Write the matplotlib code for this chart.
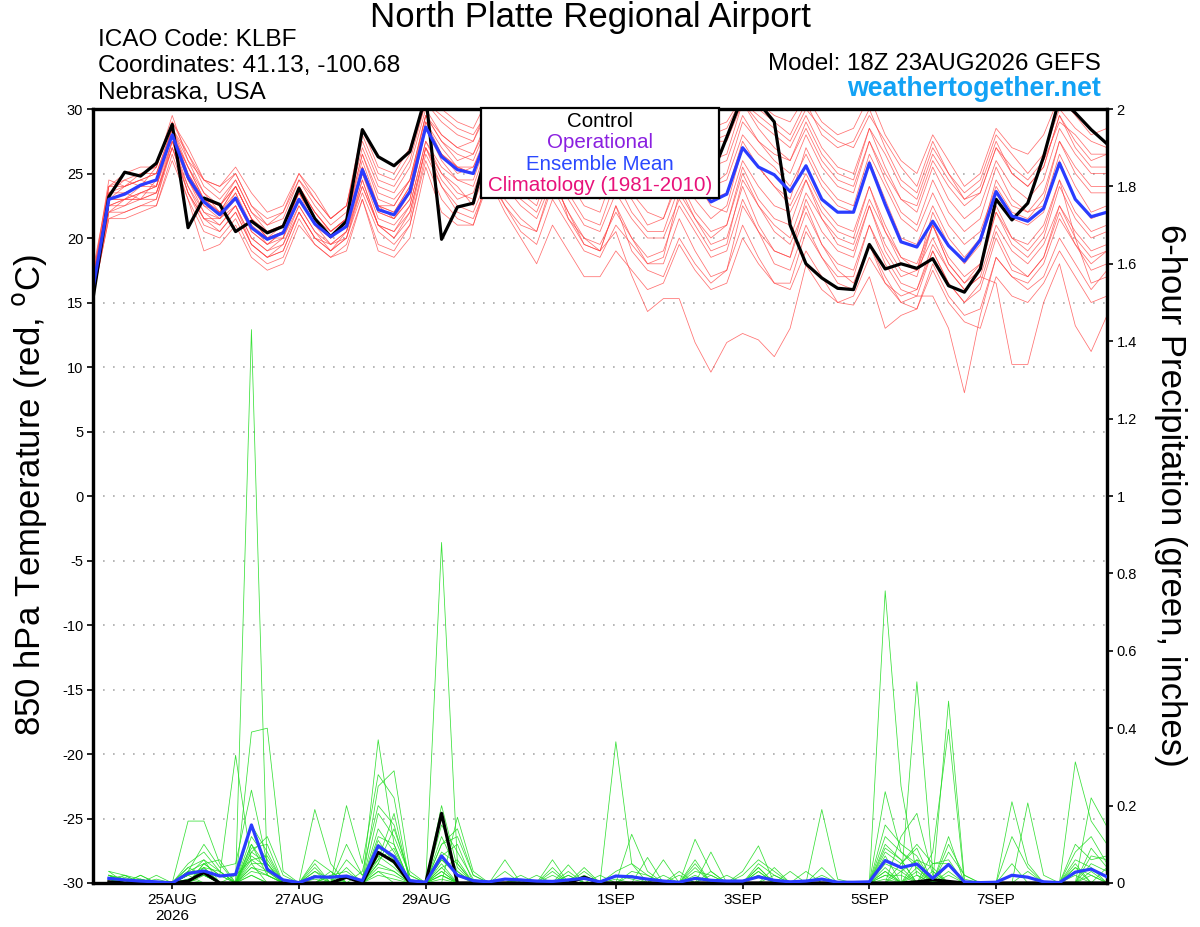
import numpy as np
import pandas as pd
import matplotlib
matplotlib.use("Agg")
import matplotlib.pyplot as plt
from matplotlib.patches import Rectangle

plt.rcParams['font.family'] = ['Liberation Sans', 'DejaVu Sans']
plt.rcParams['axes.unicode_minus'] = False

# ---------------- data ----------------
times = pd.date_range('2026-08-23 18:00', periods=65, freq='6h')
tick_dates = ['2026-08-25', '2026-08-27', '2026-08-29', '2026-09-01',
              '2026-09-03', '2026-09-05', '2026-09-07']
tick_labels = ['25AUG\n2026', '27AUG', '29AUG', '1SEP', '3SEP', '5SEP', '7SEP']
temp_ticks = [30, 25, 20, 15, 10, 5, 0, -5, -10, -15, -20, -25, -30]
precip_ticks = [0, 0.2, 0.4, 0.6, 0.8, 1.0, 1.2, 1.4, 1.6, 1.8, 2.0]
precip_tick_labels = ['0', '0.2', '0.4', '0.6', '0.8', '1', '1.2', '1.4', '1.6', '1.8', '2']

# control (black) 850 hPa temperature
t_control = [15.3,
             23.2, 25.1, 24.8, 25.8, 28.8, 20.8, 23.1, 22.6, 20.5, 21.3, 20.4, 20.9,
             23.85, 21.5, 20.1, 21.3, 28.4, 26.3, 25.6, 26.7, 31.0, 19.9, 22.4, 22.7,
             27.5, 29.0, 28.0, 27.5, 30.0, 28.5, 27.0, 27.5, 29.5, 28.0, 27.0, 27.5,
             29.0, 27.0, 24.7, 27.8, 31.0, 30.5, 29.0, 21.0, 18.0, 16.9, 16.1, 16.0,
             19.5, 17.6, 18.0, 17.65, 18.4, 16.3, 15.8, 17.6, 23.0, 21.4, 22.7, 26.3,
             30.8, 29.7, 28.4, 27.3]
# ensemble mean (blue) 850 hPa temperature
t_mean = [16.1,
          23.0, 23.4, 24.1, 24.5, 28.0, 24.7, 22.8, 21.8, 23.1, 20.8, 19.9, 20.4,
          23.0, 21.1, 20.1, 20.9, 25.3, 22.2, 21.8, 23.6, 28.6, 26.3, 25.3, 25.0,
          28.3, 26.5, 25.5, 25.0, 27.0, 25.8, 24.8, 24.5, 26.0, 25.0, 24.0, 24.2,
          26.2, 24.5, 22.8, 23.4, 27.0, 25.5, 24.9, 23.6, 25.6, 23.0, 22.0, 22.0,
          25.8, 22.6, 19.7, 19.3, 21.3, 19.4, 18.2, 19.85, 23.6, 21.7, 21.3, 22.3,
          25.8, 23.0, 21.65, 22.0]

# ensemble members (red) 850 hPa temperature
t_m01 = [16.5, 23.5, 24.0, 24.5, 25.0, 28.5, 26.0, 23.5, 22.5, 24.0, 21.5, 20.0, 21.0,
         24.0, 22.0, 20.5, 21.5, 26.5, 23.0, 22.5, 24.5, 29.5, 27.5, 26.0, 26.5,
         29.5, 28.0, 27.0, 26.5, 30.5, 28.5, 27.5, 27.0, 29.5, 27.5, 26.5, 27.0,
         30.0, 28.0, 26.0, 26.5, 30.5, 29.0, 28.0, 27.0, 29.5, 27.0, 25.5, 25.0,
         28.5, 26.5, 24.0, 23.0, 26.5, 24.5, 23.0, 24.0, 27.5, 25.0, 24.0, 25.5,
         29.5, 27.0, 25.5, 25.5]
t_m02 = [15.5, 21.5, 22.0, 22.5, 23.0, 27.0, 23.5, 21.0, 20.5, 22.0, 19.5, 18.5, 19.0,
         22.0, 20.0, 19.0, 20.0, 23.5, 20.5, 19.5, 21.0, 26.5, 24.0, 22.5, 22.0,
         25.0, 23.0, 21.5, 20.5, 24.5, 22.0, 19.5, 19.0, 22.5, 19.0, 17.5, 17.0,
         20.0, 18.0, 16.5, 17.5, 22.5, 20.5, 19.0, 18.5, 22.0, 19.5, 18.0, 17.5,
         21.0, 18.5, 16.5, 16.0, 19.0, 16.5, 15.0, 16.5, 20.5, 18.0, 17.0, 18.5,
         22.0, 19.5, 18.0, 19.0]
t_m03 = [16.0, 22.5, 23.0, 23.5, 24.0, 27.5, 24.5, 22.0, 21.5, 23.0, 20.5, 19.5, 20.0,
         23.0, 21.0, 19.5, 20.5, 25.0, 21.5, 21.0, 22.5, 27.5, 25.0, 23.5, 23.0,
         26.0, 24.0, 22.5, 21.5, 24.5, 22.0, 20.0, 19.0, 20.5, 17.1, 14.3, 15.3,
         15.3, 11.9, 9.6, 11.9, 12.6, 12.1, 10.8, 13.0, 17.9, 16.0, 15.0, 15.5,
         18.5, 16.5, 15.5, 16.0, 19.5, 17.5, 16.0, 17.0, 21.0, 19.0, 18.0, 19.5,
         22.5, 20.0, 18.5, 19.0]
t_m04 = [17.0, 24.0, 25.0, 25.5, 25.5, 29.0, 27.0, 24.5, 23.5, 25.0, 22.5, 21.0, 22.0,
         25.0, 23.0, 21.5, 22.5, 28.0, 25.0, 24.5, 26.5, 30.5, 29.0, 28.0, 27.5,
         30.5, 29.5, 28.5, 28.0, 31.0, 30.0, 29.0, 28.5, 31.0, 29.5, 28.5, 29.0,
         31.0, 30.0, 28.5, 29.0, 31.0, 30.5, 29.5, 29.0, 31.0, 29.0, 28.0, 28.5,
         31.0, 28.0, 26.0, 25.0, 28.0, 26.0, 24.0, 25.0, 28.5, 27.0, 26.5, 28.0,
         31.0, 29.5, 28.0, 28.5]
t_m05 = [16.0, 23.0, 23.5, 24.0, 24.5, 28.0, 25.0, 23.0, 22.0, 23.5, 21.0, 20.0, 20.5,
         23.5, 21.5, 20.0, 21.0, 25.5, 22.5, 22.0, 24.0, 29.0, 27.0, 25.5, 25.0,
         28.5, 26.0, 24.5, 23.0, 25.5, 21.5, 20.0, 19.5, 22.0, 20.0, 18.0, 18.5,
         23.5, 21.5, 20.0, 21.0, 25.5, 23.0, 21.5, 21.0, 24.5, 22.0, 20.5, 20.0,
         24.0, 20.5, 18.0, 17.5, 22.0, 19.5, 18.0, 19.5, 23.5, 21.5, 21.0, 22.0,
         26.0, 23.0, 21.5, 22.0]
t_m06 = [15.8, 22.0, 22.5, 23.0, 23.5, 27.0, 24.0, 22.0, 21.0, 22.5, 20.0, 19.0, 19.5,
         22.5, 20.5, 19.5, 20.0, 24.5, 21.0, 20.5, 22.5, 27.5, 25.5, 24.5, 24.0,
         27.5, 25.5, 24.0, 23.0, 26.5, 24.5, 22.5, 22.0, 25.5, 23.5, 22.0, 21.5,
         24.5, 22.0, 20.5, 21.0, 25.0, 22.5, 20.5, 19.5, 22.5, 19.5, 17.5, 16.5,
         19.5, 16.5, 15.0, 15.5, 15.5, 13.0, 8.0, 14.0, 18.5, 17.0, 16.5, 18.0,
         21.5, 19.5, 17.5, 18.0]
t_m07 = [16.3, 23.0, 23.0, 23.5, 24.0, 28.0, 25.5, 23.0, 22.5, 24.0, 21.5, 20.0, 20.5,
         23.0, 21.0, 20.0, 21.0, 25.0, 22.0, 21.5, 23.0, 28.5, 26.5, 25.5, 25.5,
         28.5, 27.0, 26.0, 25.5, 28.0, 26.0, 25.0, 24.5, 27.0, 25.0, 24.0, 24.0,
         26.5, 24.5, 22.5, 22.0, 26.0, 24.0, 22.5, 22.0, 24.5, 21.5, 19.5, 19.0,
         22.5, 19.0, 17.0, 17.5, 20.0, 17.5, 16.0, 17.0, 16.5, 10.2, 10.2, 15.0,
         18.0, 13.2, 11.2, 14.0]
t_m08 = [16.8, 23.5, 24.5, 25.0, 25.0, 28.5, 26.5, 24.0, 23.0, 24.5, 22.0, 21.0, 21.5,
         24.5, 22.5, 21.0, 22.0, 27.0, 24.0, 23.5, 25.5, 30.0, 28.0, 27.0, 26.5,
         29.0, 27.5, 26.5, 26.0, 29.5, 27.5, 26.5, 26.0, 29.0, 27.0, 26.0, 26.5,
         29.5, 27.0, 25.5, 26.0, 29.5, 27.5, 26.0, 25.0, 28.0, 25.5, 24.0, 23.5,
         27.5, 24.5, 22.0, 21.0, 24.5, 22.0, 20.5, 21.5, 25.5, 23.0, 22.0, 23.5,
         27.5, 25.5, 24.0, 24.0]
t_m09 = [15.3, 22.0, 22.0, 22.5, 22.5, 26.5, 23.0, 20.5, 20.0, 21.5, 19.0, 18.0, 18.5,
         21.5, 19.5, 18.5, 19.5, 23.0, 19.5, 19.0, 21.0, 26.0, 23.0, 21.5, 21.0,
         24.5, 22.5, 20.5, 19.5, 23.0, 21.0, 19.0, 18.5, 21.0, 19.5, 18.0, 18.0,
         21.5, 19.0, 17.0, 17.5, 21.0, 18.5, 16.5, 16.0, 19.0, 17.0, 15.0, 14.8,
         17.0, 13.0, 14.0, 14.5, 17.5, 15.0, 13.5, 13.0, 17.0, 15.5, 15.0, 16.5,
         19.0, 17.0, 15.0, 15.5]
t_m10 = [16.2, 23.0, 23.5, 24.0, 24.0, 28.0, 24.5, 22.5, 21.5, 23.5, 20.5, 19.5, 20.5,
         23.5, 21.0, 20.0, 21.0, 25.5, 22.0, 21.5, 23.5, 29.0, 26.5, 25.0, 25.5,
         28.0, 26.5, 25.5, 25.0, 27.5, 26.0, 24.5, 24.0, 27.5, 25.5, 24.5, 25.0,
         28.0, 26.0, 24.0, 24.5, 28.0, 26.5, 25.5, 24.0, 26.5, 24.0, 22.5, 22.0,
         26.0, 23.0, 20.0, 19.5, 22.5, 20.0, 18.5, 20.0, 24.5, 22.5, 22.0, 22.5,
         26.5, 24.0, 22.0, 22.5]
t_m11 = [17.5, 24.0, 24.5, 24.0, 25.5, 29.0, 26.5, 24.5, 24.0, 25.5, 23.5, 22.0, 22.5,
         25.0, 23.5, 21.5, 22.5, 28.5, 25.5, 25.0, 27.0, 31.0, 30.0, 29.0, 28.5,
         31.0, 30.5, 29.5, 29.0, 31.0, 30.0, 29.5, 29.0, 31.0, 30.0, 29.0, 29.5,
         31.0, 29.5, 28.0, 28.5, 31.0, 30.0, 29.0, 28.0, 30.5, 28.0, 27.0, 27.5,
         30.0, 27.0, 24.5, 23.5, 27.0, 25.0, 23.5, 24.5, 28.0, 26.5, 25.0, 26.5,
         30.0, 28.5, 27.5, 27.0]
t_m12 = [15.7, 22.5, 23.0, 23.0, 23.5, 27.5, 24.0, 21.5, 21.0, 22.5, 20.0, 19.0, 20.0,
         22.5, 20.5, 19.0, 20.5, 24.0, 21.0, 20.0, 22.0, 27.0, 24.5, 23.0, 23.5,
         27.0, 25.0, 23.5, 22.5, 26.0, 23.5, 21.5, 21.0, 24.5, 22.0, 20.5, 20.5,
         24.0, 21.5, 19.5, 20.0, 24.0, 21.0, 19.0, 18.5, 23.0, 20.5, 19.0, 18.5,
         22.5, 19.5, 17.5, 17.0, 21.0, 18.5, 17.0, 18.0, 22.0, 19.5, 18.5, 20.0,
         24.0, 21.5, 20.0, 20.5]
t_m13 = [16.6, 23.5, 23.5, 23.0, 24.5, 28.5, 25.5, 23.5, 22.0, 24.0, 21.5, 20.0, 20.0,
         24.0, 22.0, 20.5, 21.5, 26.0, 22.5, 22.0, 24.0, 29.5, 28.0, 27.0, 27.5,
         30.0, 29.0, 28.0, 27.5, 29.0, 26.5, 24.0, 23.0, 25.5, 23.0, 21.0, 21.5,
         25.0, 23.0, 21.5, 22.5, 27.0, 25.5, 24.0, 23.0, 27.0, 24.5, 23.0, 22.5,
         26.5, 24.0, 21.5, 20.5, 23.5, 21.0, 19.5, 20.5, 24.0, 22.0, 21.5, 23.0,
         27.5, 25.0, 23.5, 23.5]
t_m14 = [15.9, 22.5, 22.5, 23.5, 23.5, 27.0, 23.5, 21.5, 21.5, 22.5, 19.5, 18.5, 19.0,
         22.0, 20.0, 19.0, 20.0, 24.0, 21.0, 20.5, 22.0, 27.0, 24.0, 22.0, 21.5,
         24.5, 22.0, 20.0, 18.0, 21.0, 19.0, 17.0, 17.0, 19.0, 17.5, 16.0, 16.5,
         19.5, 17.5, 16.0, 16.5, 20.0, 18.0, 16.5, 16.5, 20.5, 18.5, 17.0, 17.0,
         21.0, 18.0, 16.0, 15.5, 19.0, 16.5, 15.0, 16.0, 20.0, 17.5, 17.0, 18.5,
         22.5, 20.5, 19.0, 19.5]
t_m15 = [16.4, 23.0, 24.0, 24.5, 25.0, 28.0, 25.5, 23.0, 22.5, 24.5, 22.0, 20.5, 21.0,
         24.0, 22.0, 20.5, 21.5, 26.5, 23.5, 23.0, 24.5, 29.5, 27.5, 26.5, 26.0,
         29.0, 28.0, 27.5, 27.5, 30.5, 29.5, 28.5, 28.0, 30.5, 29.0, 28.0, 28.0,
         30.5, 29.0, 27.5, 28.0, 30.5, 29.5, 28.5, 27.5, 30.0, 28.5, 27.5, 27.0,
         29.5, 27.5, 25.5, 24.0, 27.5, 25.0, 23.0, 23.5, 27.0, 25.5, 24.5, 26.0,
         29.0, 28.0, 26.5, 26.5]
t_m16 = [16.0, 23.0, 23.0, 24.0, 24.5, 28.0, 24.5, 22.5, 22.0, 23.0, 21.0, 19.5, 20.5,
         23.0, 21.0, 20.0, 21.0, 25.0, 22.5, 21.5, 23.0, 28.5, 26.0, 24.5, 24.5,
         28.0, 26.0, 25.0, 24.5, 27.0, 25.0, 23.5, 23.0, 26.5, 24.5, 23.5, 23.5,
         27.5, 25.0, 23.0, 23.5, 27.5, 25.5, 24.0, 22.5, 25.0, 22.5, 21.0, 20.5,
         24.0, 21.0, 18.5, 18.0, 21.0, 18.0, 16.5, 18.0, 22.5, 20.0, 19.5, 21.0,
         24.5, 20.0, 16.5, 17.0]
t_m17 = [16.7, 24.0, 24.0, 24.5, 24.0, 28.5, 25.0, 23.0, 22.0, 24.0, 21.5, 20.5, 21.0,
         23.5, 21.5, 20.5, 21.5, 25.5, 22.5, 22.5, 24.5, 28.5, 26.5, 25.5, 25.0,
         28.5, 27.5, 27.0, 27.0, 29.5, 28.0, 27.0, 26.5, 28.5, 26.5, 25.5, 25.0,
         28.0, 26.0, 24.0, 25.0, 29.0, 27.5, 26.5, 26.0, 29.0, 26.5, 25.0, 24.5,
         28.5, 25.5, 23.0, 22.0, 25.5, 23.0, 21.5, 22.5, 26.0, 24.0, 23.0, 24.5,
         28.5, 26.5, 25.0, 25.0]
t_m18 = [15.4, 21.5, 21.5, 22.0, 22.5, 26.0, 23.0, 19.0, 19.5, 21.0, 18.5, 17.5, 18.0,
         21.0, 19.5, 18.5, 19.0, 23.0, 19.0, 18.5, 20.0, 25.5, 22.0, 21.0, 21.0,
         25.0, 22.5, 21.0, 20.5, 24.0, 21.5, 19.5, 19.0, 22.5, 20.0, 18.5, 19.0,
         22.5, 20.5, 18.5, 19.0, 23.0, 20.5, 18.0, 17.5, 21.0, 18.5, 16.5, 16.0,
         19.5, 17.0, 15.0, 14.5, 18.0, 15.5, 14.0, 14.5, 18.5, 17.0, 16.0, 17.0,
         20.0, 18.0, 16.0, 17.5]
t_m19 = [16.9, 24.5, 24.0, 25.0, 25.5, 29.5, 26.0, 24.5, 24.0, 25.0, 22.5, 21.5, 22.0,
         24.5, 23.0, 21.5, 22.5, 27.5, 24.5, 24.0, 26.0, 30.5, 29.5, 28.5, 28.0,
         30.0, 29.0, 28.5, 28.0, 30.0, 28.0, 27.0, 26.0, 28.5, 27.0, 26.5, 27.0,
         29.5, 28.5, 27.5, 27.5, 30.5, 28.5, 27.0, 26.0, 28.5, 26.0, 24.5, 24.0,
         27.5, 25.0, 23.0, 22.5, 26.0, 24.0, 22.5, 23.5, 27.0, 25.0, 24.0, 25.5,
         29.5, 27.5, 26.0, 26.5]
t_m20 = [15.6, 22.0, 23.0, 23.0, 23.0, 27.5, 23.5, 21.5, 20.5, 22.0, 19.5, 18.5, 19.5,
         22.0, 20.0, 19.5, 20.5, 24.5, 21.0, 20.0, 21.5, 27.0, 25.0, 24.0, 22.5,
         26.0, 24.5, 23.0, 22.0, 25.0, 23.0, 21.0, 20.5, 23.5, 21.5, 20.0, 20.0,
         23.0, 21.0, 19.0, 19.5, 24.5, 22.5, 21.0, 20.0, 23.5, 21.5, 20.0, 19.5,
         23.0, 20.5, 18.5, 17.5, 21.0, 18.0, 16.5, 17.5, 22.0, 20.0, 19.0, 20.5,
         24.5, 22.0, 20.5, 21.0]
t_members = [t_m01, t_m02, t_m03, t_m04, t_m05, t_m06, t_m07, t_m08, t_m09, t_m10,
             t_m11, t_m12, t_m13, t_m14, t_m15, t_m16, t_m17, t_m18, t_m19, t_m20]

# 6-hour precipitation (inches), valid from the second time step on
p_mean = [0.012, 0.008, 0.005, 0.003, 0.0, 0.025, 0.031, 0.018, 0.022, 0.15, 0.035, 0.008,
          0.001, 0.016, 0.015, 0.018, 0.006, 0.096, 0.068, 0.006, 0.002, 0.07, 0.02, 0.006,
          0.003, 0.01, 0.008, 0.005, 0.004, 0.008, 0.012, 0.003, 0.018, 0.016, 0.01, 0.005,
          0.002, 0.012, 0.007, 0.005, 0.005, 0.016, 0.007, 0.003, 0.005, 0.01, 0.002, 0.002,
          0.003, 0.058, 0.04, 0.049, 0.012, 0.048, 0.003, 0.001, 0.002, 0.02, 0.015, 0.003,
          0.001, 0.028, 0.036, 0.016]
# sparse precipitation: {time-step index: amount}
p_control = {1: 0.003, 6: 0.005, 7: 0.027, 16: 0.015, 18: 0.079, 19: 0.055, 22: 0.18,
             31: 0.015, 52: 0.003, 53: 0.008, 54: 0.004}
p_members = [
    {1: 0.03, 2: 0.02, 3: 0.01, 6: 0.16, 7: 0.16, 8: 0.05, 10: 1.43, 11: 0.02, 14: 0.02,
     18: 0.05, 19: 0.03, 22: 0.05, 26: 0.01, 30: 0.02, 42: 0.02, 50: 0.05, 51: 0.03,
     62: 0.04, 63: 0.02},
    {1: 0.02, 2: 0.01, 7: 0.05, 8: 0.02, 9: 0.33, 10: 0.05, 14: 0.19, 15: 0.05, 18: 0.37,
     19: 0.1, 22: 0.88, 23: 0.05, 33: 0.365, 34: 0.05, 35: 0.02, 50: 0.755, 51: 0.25,
     52: 0.02, 62: 0.02},
    {1: 0.015, 6: 0.05, 7: 0.08, 8: 0.03, 10: 0.39, 11: 0.40, 12: 0.03, 16: 0.2, 17: 0.05,
     18: 0.28, 19: 0.22, 23: 0.17, 24: 0.03, 29: 0.06, 38: 0.113, 39: 0.03, 46: 0.19,
     47: 0.01, 52: 0.52, 53: 0.03, 58: 0.21, 59: 0.05},
    {1: 0.01, 3: 0.02, 6: 0.03, 7: 0.1, 8: 0.04, 9: 0.05, 10: 0.24, 11: 0.05, 15: 0.02,
     16: 0.03, 18: 0.25, 19: 0.29, 20: 0.03, 22: 0.1, 23: 0.14, 24: 0.02, 31: 0.04,
     34: 0.126, 35: 0.03, 43: 0.04, 50: 0.236, 51: 0.08, 52: 0.04, 54: 0.47, 55: 0.01,
     63: 0.22, 64: 0.145},
    {2: 0.02, 6: 0.02, 7: 0.04, 9: 0.02, 10: 0.06, 11: 0.03, 14: 0.05, 18: 0.18, 19: 0.12,
     20: 0.02, 22: 0.2, 23: 0.04, 30: 0.047, 36: 0.06, 38: 0.04, 40: 0.02, 50: 0.1,
     51: 0.06, 53: 0.08, 54: 0.397, 62: 0.313, 63: 0.16, 64: 0.1},
    {1: 0.01, 4: 0.02, 7: 0.03, 8: 0.02, 10: 0.1, 11: 0.04, 14: 0.03, 15: 0.01, 18: 0.1,
     19: 0.06, 22: 0.07, 23: 0.1, 28: 0.02, 31: 0.03, 35: 0.066, 39: 0.08, 41: 0.03,
     42: 0.096, 44: 0.03, 51: 0.12, 52: 0.18, 53: 0.02, 59: 0.207, 60: 0.02},
    {1: 0.02, 2: 0.01, 6: 0.04, 7: 0.02, 10: 0.15, 11: 0.08, 16: 0.06, 17: 0.02, 18: 0.06,
     19: 0.18, 22: 0.03, 26: 0.06, 32: 0.02, 37: 0.03, 42: 0.05, 43: 0.02, 50: 0.06,
     51: 0.04, 54: 0.12, 62: 0.08, 63: 0.12, 64: 0.05},
    {1: 0.03, 3: 0.01, 6: 0.02, 7: 0.06, 8: 0.03, 10: 0.08, 11: 0.12, 12: 0.02, 14: 0.01,
     18: 0.14, 19: 0.08, 22: 0.12, 23: 0.03, 27: 0.02, 29: 0.03, 33: 0.03, 34: 0.05,
     38: 0.06, 42: 0.04, 45: 0.03, 50: 0.04, 52: 0.06, 53: 0.04, 58: 0.05, 63: 0.09,
     64: 0.04},
    {1: 0.005, 6: 0.01, 7: 0.02, 10: 0.03, 11: 0.02, 16: 0.02, 18: 0.04, 19: 0.03,
     22: 0.02, 36: 0.02, 42: 0.02, 50: 0.03, 52: 0.03, 54: 0.05},
    {2: 0.01, 7: 0.05, 8: 0.06, 10: 0.12, 11: 0.06, 15: 0.02, 17: 0.03, 18: 0.2, 19: 0.15,
     20: 0.01, 22: 0.04, 23: 0.06, 30: 0.02, 34: 0.02, 37: 0.02, 41: 0.02, 42: 0.06,
     43: 0.03, 50: 0.08, 51: 0.05, 52: 0.1, 53: 0.05, 54: 0.06, 58: 0.12, 59: 0.04,
     63: 0.05, 64: 0.03},
    {1: 0.01, 6: 0.01, 10: 0.02, 18: 0.02, 19: 0.01, 22: 0.01, 33: 0.01, 50: 0.02, 54: 0.02},
    {1: 0.02, 3: 0.02, 6: 0.03, 7: 0.05, 8: 0.02, 10: 0.04, 11: 0.03, 14: 0.06, 15: 0.03,
     18: 0.12, 19: 0.1, 22: 0.06, 23: 0.02, 26: 0.03, 31: 0.02, 38: 0.03, 39: 0.02,
     46: 0.04, 50: 0.12, 51: 0.08, 52: 0.05, 62: 0.06, 63: 0.04},
    {1: 0.01, 7: 0.04, 10: 0.05, 11: 0.05, 16: 0.1, 17: 0.02, 18: 0.08, 19: 0.05, 22: 0.15,
     23: 0.08, 24: 0.01, 34: 0.03, 35: 0.02, 43: 0.02, 50: 0.15, 51: 0.1, 52: 0.07,
     54: 0.08, 55: 0.02, 62: 0.1, 63: 0.06, 64: 0.07},
    {2: 0.015, 6: 0.03, 7: 0.02, 10: 0.07, 11: 0.04, 18: 0.09, 19: 0.07, 22: 0.02,
     27: 0.01, 38: 0.02, 50: 0.02, 51: 0.02, 53: 0.03, 63: 0.03},
    {1: 0.02, 6: 0.02, 7: 0.03, 10: 0.08, 11: 0.05, 14: 0.02, 18: 0.05, 19: 0.14, 20: 0.02,
     22: 0.08, 23: 0.05, 29: 0.02, 39: 0.03, 42: 0.03, 51: 0.05, 52: 0.09, 54: 0.1,
     55: 0.02, 62: 0.04},
    {1: 0.01, 4: 0.01, 6: 0.02, 10: 0.02, 18: 0.03, 22: 0.03, 50: 0.01},
    {1: 0.015, 7: 0.03, 10: 0.06, 11: 0.07, 14: 0.04, 16: 0.04, 18: 0.07, 19: 0.04,
     22: 0.06, 23: 0.03, 30: 0.03, 42: 0.03, 50: 0.07, 52: 0.04, 54: 0.03, 63: 0.02},
    {1: 0.01, 2: 0.02, 7: 0.04, 8: 0.03, 10: 0.1, 11: 0.02, 15: 0.03, 18: 0.11, 19: 0.05,
     22: 0.1, 23: 0.12, 24: 0.02, 33: 0.02, 34: 0.01, 39: 0.02, 46: 0.02, 51: 0.03,
     52: 0.06, 59: 0.03, 63: 0.07, 64: 0.06},
    {1: 0.02, 6: 0.04, 7: 0.06, 10: 0.09, 11: 0.1, 14: 0.03, 18: 0.06, 19: 0.09, 22: 0.04,
     29: 0.04, 38: 0.05, 42: 0.04, 50: 0.09, 51: 0.06, 53: 0.05, 54: 0.05, 62: 0.05,
     64: 0.04},
    {1: 0.01, 3: 0.01, 7: 0.02, 10: 0.04, 11: 0.02, 18: 0.03, 19: 0.02, 22: 0.02,
     50: 0.03, 52: 0.02},
]

for m in t_members + [t_control, t_mean]:
    assert len(m) == 65, len(m)
assert len(p_mean) == 64


def sparse_to_series(d, n=65):
    s = np.zeros(n)
    for k, v in d.items():
        s[k] = v
    return s[1:]


ptimes = times[1:]

# ---------------- figure ----------------
fig = plt.figure(figsize=(12, 9.27), dpi=100)
ax = fig.add_axes([93 / 1200, 1 - 883 / 927, (1107 - 93) / 1200, (883 - 109) / 927])
ax2 = ax.twinx()

red = '#ff4040'
green = '#22dd22'
for m in t_members:
    ax.plot(times, m, color=red, lw=0.55, alpha=0.75, zorder=2)
ax.plot(times, t_control, color='black', lw=2.3, zorder=4)
ax.plot(times, t_mean, color='#2a3cff', lw=2.3, zorder=5)

for d in p_members:
    ax2.plot(ptimes, sparse_to_series(d), color=green, lw=0.55, alpha=0.9, zorder=2)
ax2.plot(ptimes, sparse_to_series(p_control), color='black', lw=2.3, zorder=4)
ax2.plot(ptimes, p_mean, color='#2a3cff', lw=2.3, zorder=5)

ax.set_xlim(times[0], times[-1])
ax.set_ylim(-30, 30)
ax2.set_ylim(0, 2)

ax.set_yticks(temp_ticks)
ax.set_yticklabels([str(t) for t in temp_ticks])
ax2.set_yticks(precip_ticks)
ax2.set_yticklabels(precip_tick_labels)
ax.set_xticks(pd.to_datetime(tick_dates))
ax.set_xticklabels(tick_labels)

for a in (ax, ax2):
    for s in a.spines.values():
        s.set_linewidth(2.3)
    a.tick_params(axis='both', which='both', direction='out', length=4, width=1.2,
                  labelsize=10.5, pad=3)
ax.tick_params(axis='x', labelsize=11, pad=3)
ax.tick_params(axis='x', which='minor', length=0)

ax.yaxis.grid(True, linestyle=(0, (1, 5)), color='#aaaaaa', lw=1.2)
ax.set_axisbelow(True)

# legend box drawn over the data
ax2.add_patch(Rectangle(((480.7 - 93) / 1014, (883 - 198.3) / 774),
                        (719.3 - 480.7) / 1014, (198.3 - 107.5) / 774,
                        transform=ax2.transAxes, facecolor='white', edgecolor='black',
                        lw=1.6, zorder=20, clip_on=False))
leg_x = (600 - 93) / 1014
for txt, col, yy in [('Control', 'black', 121),
                     ('Operational', '#8a1fe0', 142),
                     ('Ensemble Mean', '#2a48ff', 164),
                     ('Climatology (1981-2010)', '#e8127a', 185)]:
    ax2.text(leg_x, (883 - yy) / 774, txt, color=col, fontsize=14.8, ha='center',
             va='center', transform=ax2.transAxes, zorder=21)

# headers
fig.text(590 / 1200, 1 - 18 / 927, 'North Platte Regional Airport', fontsize=25,
         ha='center', va='center')
fig.text(98 / 1200, 1 - 40 / 927, 'ICAO Code: KLBF', fontsize=17.6, ha='left', va='center')
fig.text(98 / 1200, 1 - 66 / 927, 'Coordinates: 41.13, -100.68', fontsize=17.6,
         ha='left', va='center')
fig.text(98 / 1200, 1 - 93 / 927, 'Nebraska, USA', fontsize=17.6, ha='left', va='center')
fig.text(1101 / 1200, 1 - 64 / 927, 'Model: 18Z 23AUG2026 GEFS', fontsize=17.4,
         ha='right', va='center')
fig.text(1101 / 1200, 1 - 89 / 927, 'weathertogether.net', fontsize=19.3,
         fontweight='bold', color='#12a2f5', ha='right', va='center')

fig.text(30 / 1200, 1 - 495 / 927, r'850 hPa Temperature (red, $^{\mathrm{o}}$C)',
         fontsize=25, rotation=90, ha='center', va='center')
fig.text(1170 / 1200, 1 - 495 / 927, '6-hour Precipitation (green, inches)',
         fontsize=25, rotation=270, ha='center', va='center')

fig.savefig('out.png', dpi=100)
